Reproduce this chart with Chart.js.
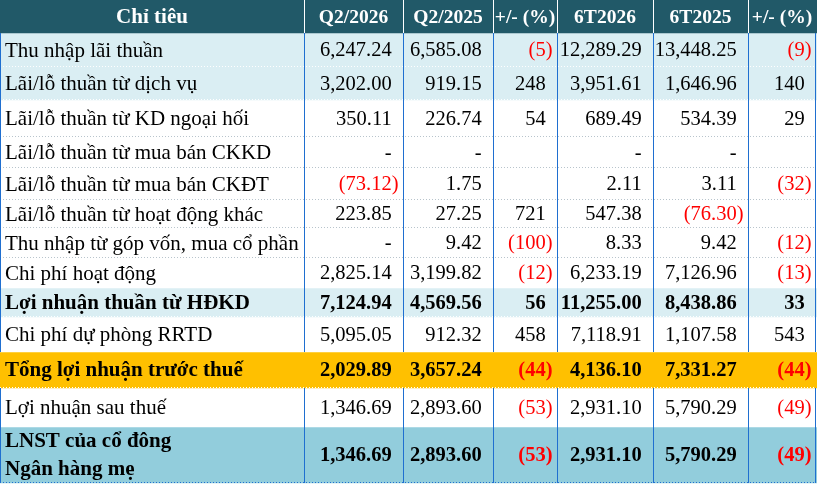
<!DOCTYPE html>
<html>
<head>
<meta charset="utf-8">
<script src="https://cdn.jsdelivr.net/npm/chart.js@4.4.1/dist/chart.umd.min.js"></script>
<style>
  html, body { margin: 0; padding: 0; background: #ffffff; }
  canvas { display: block; }
</style>
</head>
<body>
<canvas id="kqkd-table" width="817" height="487"></canvas>
<script>
// Table data
const headers = ['Chỉ tiêu', 'Q2/2026', 'Q2/2025', '+/- (%)', '6T2026', '6T2025', '+/- (%)'];
const categories = [
  'Thu nhập lãi thuần',
  'Lãi/lỗ thuần từ dịch vụ',
  'Lãi/lỗ thuần từ KD ngoại hối',
  'Lãi/lỗ thuần từ mua bán CKKD',
  'Lãi/lỗ thuần từ mua bán CKĐT',
  'Lãi/lỗ thuần từ hoạt động khác',
  'Thu nhập từ góp vốn, mua cổ phần',
  'Chi phí hoạt động',
  'Lợi nhuận thuần từ HĐKD',
  'Chi phí dự phòng RRTD',
  'Tổng lợi nhuận trước thuế',
  'Lợi nhuận sau thuế',
  'LNST của cổ đông\nNgân hàng mẹ',
];
// 0 is shown as "-", null as an empty cell
const q2026 = [6247.24, 3202.00, 350.11, 0, -73.12, 223.85, 0, 2825.14, 7124.94, 5095.05, 2029.89, 1346.69, 1346.69];
const q2025 = [6585.08, 919.15, 226.74, 0, 1.75, 27.25, 9.42, 3199.82, 4569.56, 912.32, 3657.24, 2893.60, 2893.60];
const qChange = [-5, 248, 54, null, null, 721, -100, -12, 56, 458, -44, -53, -53];
const h2026 = [12289.29, 3951.61, 689.49, 0, 2.11, 547.38, 8.33, 6233.19, 11255.00, 7118.91, 4136.10, 2931.10, 2931.10];
const h2025 = [13448.25, 1646.96, 534.39, 0, 3.11, -76.30, 9.42, 7126.96, 8438.86, 1107.58, 7331.27, 5790.29, 5790.29];
const hChange = [-9, 140, 29, null, -32, null, -12, -13, 33, 543, -44, -49, -49];

const columns = [q2026, q2025, qChange, h2026, h2025, hChange];
const decimals = [2, 2, 0, 2, 2, 0];

// Layout (pixels)
const W = 817, H = 487;
const colEdges = [0, 304, 403, 493, 557, 653, 748, 816];
const rowEdges = [0, 33, 67, 100, 137, 168, 200, 228, 258, 288, 317, 352, 388, 427, 483];

// Row styles
const HEADER_BG = '#215968';
const LIGHT = '#daeef3', ORANGE = '#ffc000', TEAL = '#92cddc', WHITE = '#ffffff';
const rowBg = [LIGHT, LIGHT, WHITE, WHITE, WHITE, WHITE, WHITE, WHITE, LIGHT, WHITE, ORANGE, WHITE, TEAL];
const rowBold = [false, false, false, false, false, false, false, false, true, false, true, false, true];
const FONT = '"Liberation Serif", "Times New Roman", serif';

const fmt = (v, d) => {
  if (v === null) return '';
  if (v === 0) return '-';
  const s = Math.abs(v).toLocaleString('en-US', { minimumFractionDigits: d, maximumFractionDigits: d });
  return v < 0 ? `(${s})` : s;
};

// one floating bar per row gives the row fill
const datasets = [{
  data: [{ x: [0, W], y: (rowEdges[0] + rowEdges[1]) / 2 }],
  backgroundColor: HEADER_BG,
  barThickness: rowEdges[1] - rowEdges[0],
}];
categories.forEach((c, i) => {
  datasets.push({
    label: c,
    data: [{ x: [0, W], y: (rowEdges[i + 1] + rowEdges[i + 2]) / 2 }],
    backgroundColor: rowBg[i],
    barThickness: rowEdges[i + 2] - rowEdges[i + 1],
  });
});

const tableText = {
  id: 'tableText',
  afterDatasetsDraw(chart) {
    const { ctx, scales: { x, y } } = chart;
    const px = (v) => x.getPixelForValue(v);
    const py = (v) => y.getPixelForValue(v);
    ctx.save();

    // header separators
    ctx.strokeStyle = '#ffffff';
    ctx.lineWidth = 1;
    for (let c = 1; c < colEdges.length - 1; c++) {
      ctx.beginPath();
      ctx.moveTo(Math.round(px(colEdges[c])) + 0.5, py(rowEdges[0]));
      ctx.lineTo(Math.round(px(colEdges[c])) + 0.5, py(rowEdges[1]));
      ctx.stroke();
    }

    // dotted row separators
    ctx.setLineDash([1, 2]);
    for (let r = 2; r < rowEdges.length; r++) {
      const above = rowBg[r - 2], below = rowBg[r - 1];
      let col = '#b8c4cc';
      if (r === rowEdges.length - 1) col = '#1f6fd0';
      else if (above !== WHITE || below !== WHITE) col = '#ffffff';
      ctx.strokeStyle = col;
      ctx.beginPath();
      ctx.moveTo(px(colEdges[0]), Math.round(py(rowEdges[r])) - 0.5);
      ctx.lineTo(px(colEdges[colEdges.length - 1]), Math.round(py(rowEdges[r])) - 0.5);
      ctx.stroke();
    }
    ctx.setLineDash([]);

    // blue column lines, broken at the orange row
    ctx.strokeStyle = '#1f6fd0';
    for (let c = 0; c < colEdges.length; c++) {
      const cx = Math.round(px(colEdges[c])) + (c === colEdges.length - 1 ? -0.5 : 0.5);
      for (let r = 0; r < categories.length; r++) {
        if (rowBg[r] === ORANGE) continue;
        ctx.beginPath();
        ctx.moveTo(cx, py(rowEdges[r + 1]));
        ctx.lineTo(cx, py(rowEdges[r + 2]));
        ctx.stroke();
      }
    }

    // header text
    ctx.fillStyle = '#ffffff';
    ctx.textAlign = 'center';
    ctx.textBaseline = 'middle';
    headers.forEach((h, c) => {
      ctx.font = `bold ${c === 0 ? 21 : 19.5}px ${FONT}`;
      ctx.fillText(h, (px(colEdges[c]) + px(colEdges[c + 1])) / 2, (py(rowEdges[0]) + py(rowEdges[1])) / 2 + 1);
    });

    // body text
    categories.forEach((label, r) => {
      const top = py(rowEdges[r + 1]), bottom = py(rowEdges[r + 2]);
      const mid = (top + bottom) / 2 + 1;
      const weight = rowBold[r] ? 'bold ' : '';
      ctx.font = `${weight}21px ${FONT}`;
      ctx.fillStyle = '#000000';
      ctx.textAlign = 'left';
      const lines = label.split('\n');
      lines.forEach((ln, i) => {
        ctx.fillText(ln, px(colEdges[0]) + 5, mid + (i - (lines.length - 1) / 2) * 28);
      });

      ctx.font = `${weight}20.5px ${FONT}`;
      const parenW = ctx.measureText(')').width;
      ctx.textAlign = 'right';
      columns.forEach((series, c) => {
        const v = series[r];
        const txt = fmt(v, decimals[c]);
        if (!txt) return;
        const right = px(colEdges[c + 2]) - 4.5;
        ctx.fillStyle = v < 0 ? '#ff0000' : '#000000';
        ctx.fillText(txt, v < 0 ? right : right - parenW, mid);
      });
    });

    ctx.restore();
  },
};

new Chart(document.getElementById('kqkd-table'), {
  type: 'bar',
  data: { datasets },
  options: {
    indexAxis: 'y',
    responsive: false,
    animation: false,
    datasets: { bar: { grouped: false, borderWidth: 0, borderSkipped: false } },
    layout: { padding: 0 },
    scales: {
      x: { type: 'linear', min: 0, max: W, display: false, offset: false },
      y: { type: 'linear', min: 0, max: H, reverse: true, display: false, offset: false },
    },
    plugins: {
      legend: { display: false },
      tooltip: { enabled: false },
    },
  },
  plugins: [tableText],
});
</script>
</body>
</html>
